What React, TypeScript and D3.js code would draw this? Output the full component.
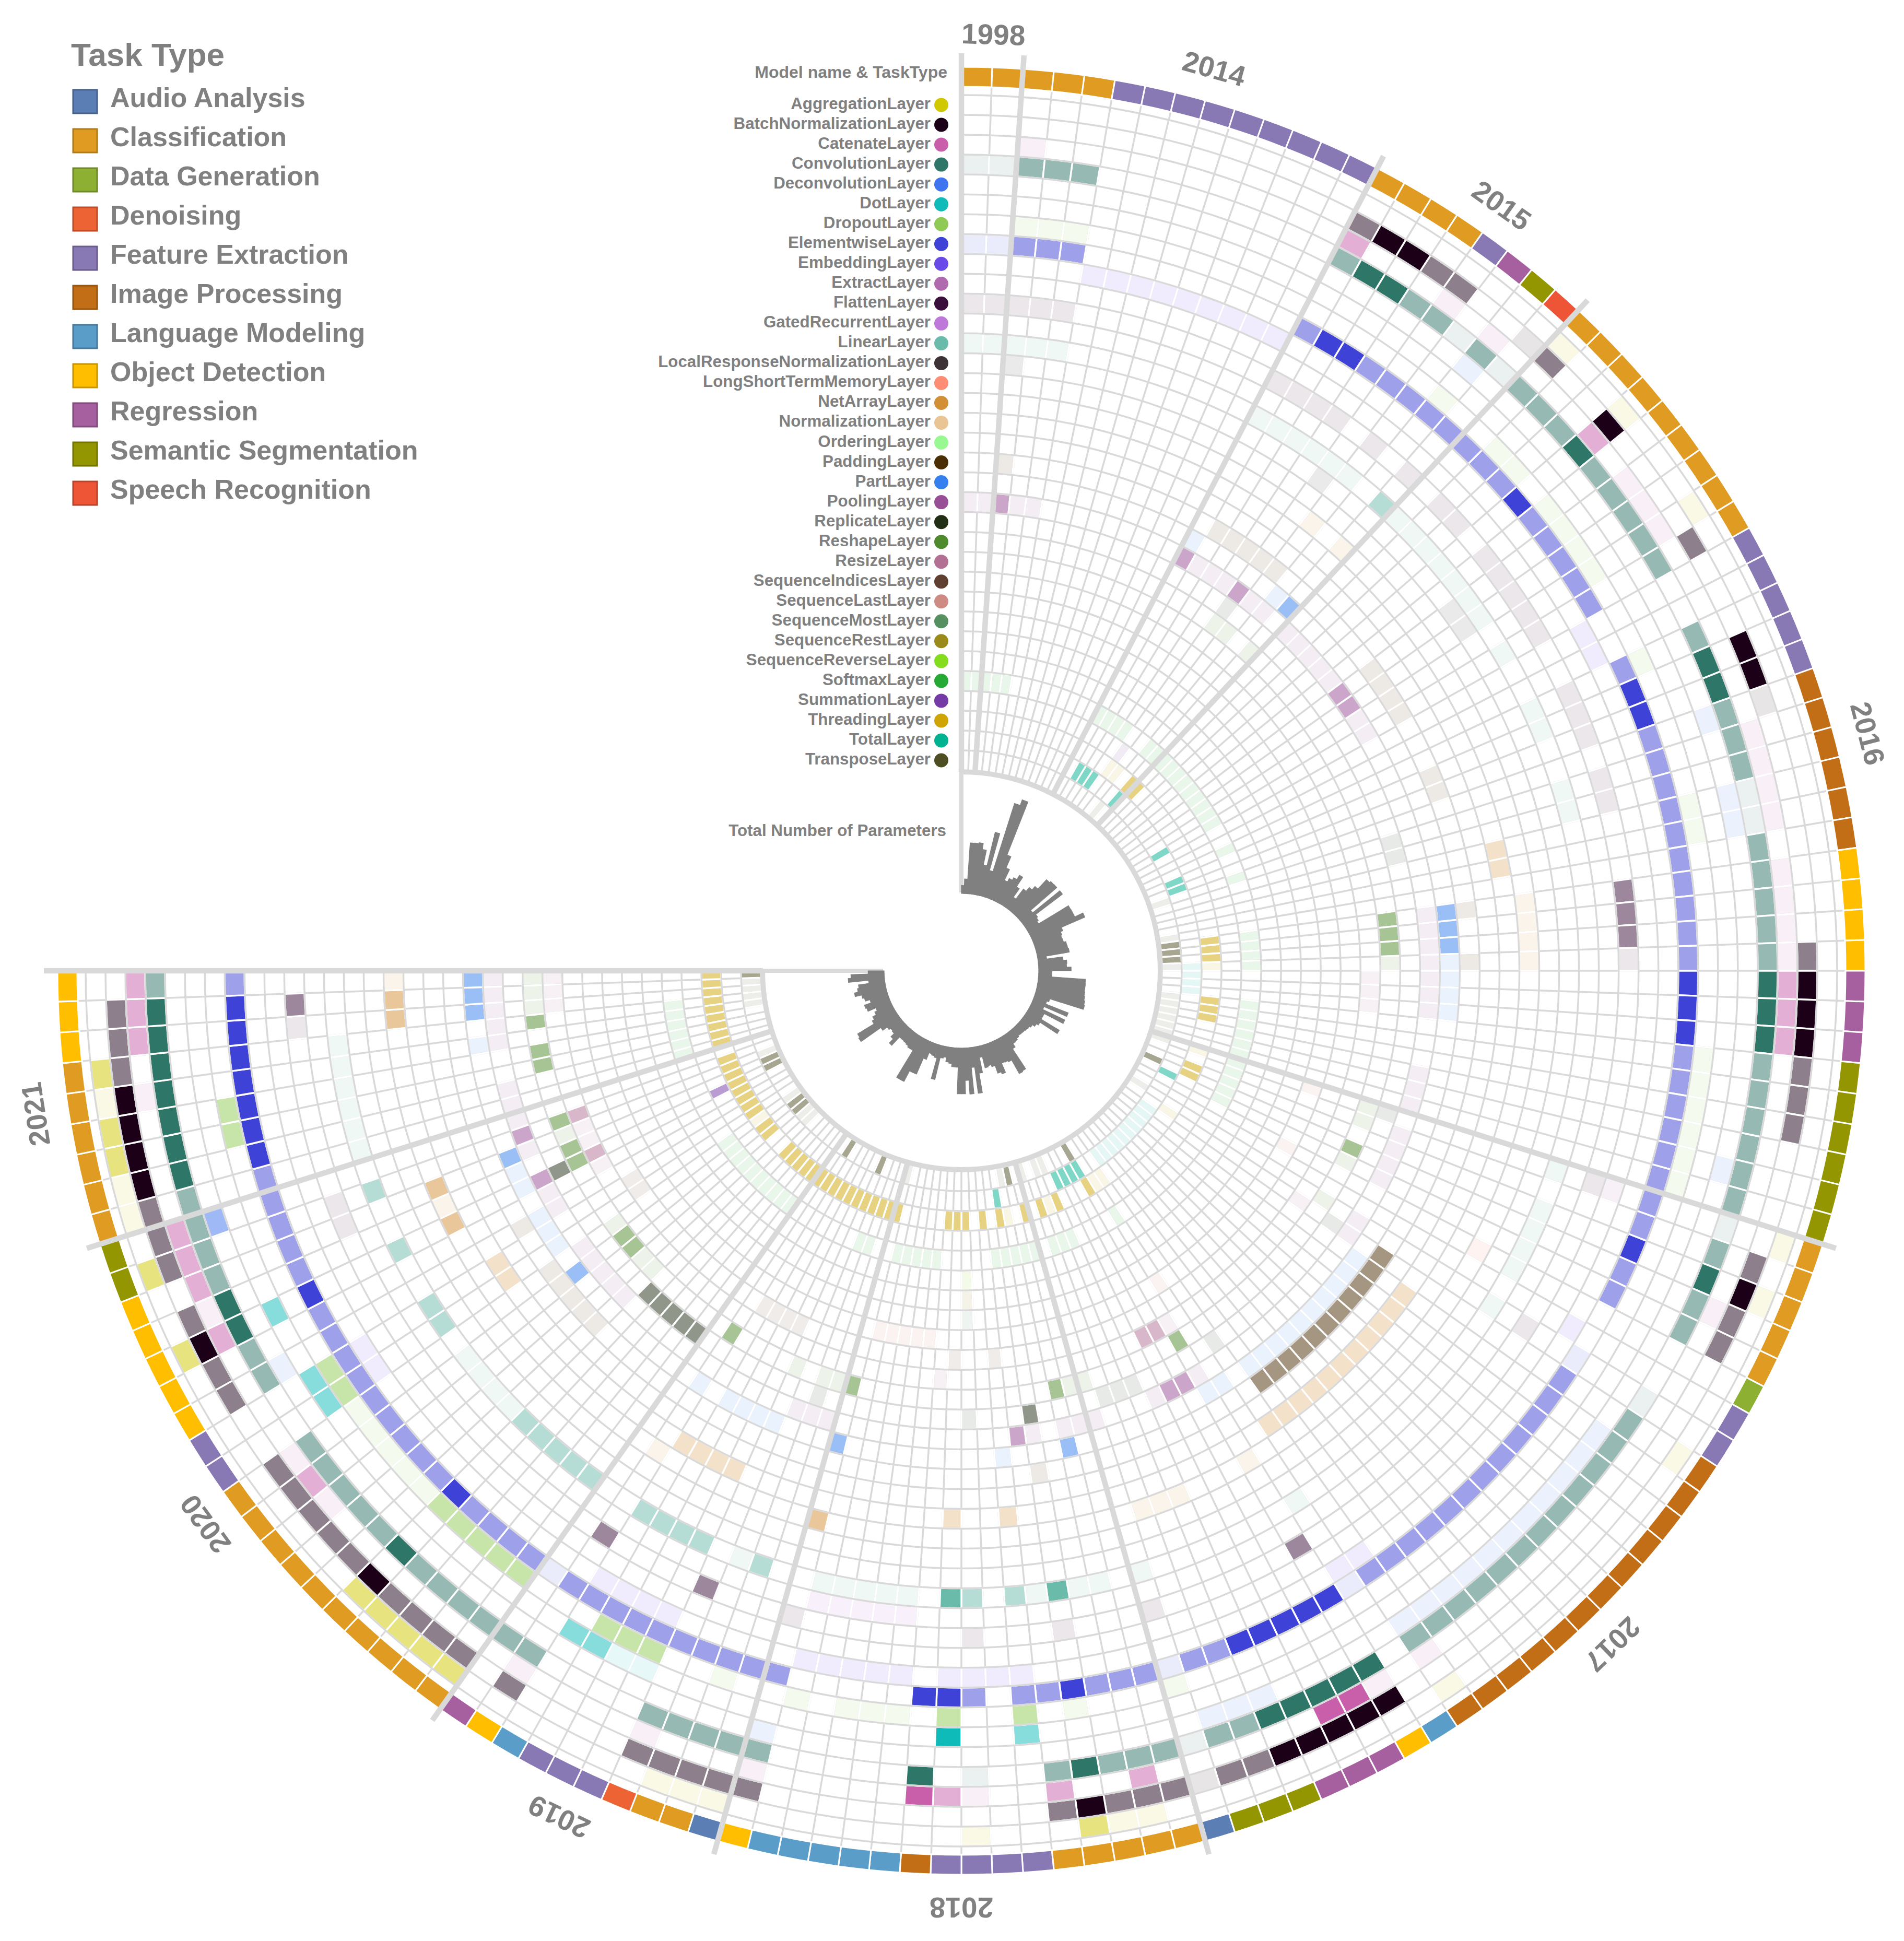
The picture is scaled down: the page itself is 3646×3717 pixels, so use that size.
import * as d3 from 'd3'

type Run = [number, number, number]

const taskTypes = ['Audio Analysis', 'Classification', 'Data Generation', 'Denoising', 'Feature Extraction', 'Image Processing', 'Language Modeling', 'Object Detection', 'Regression', 'Semantic Segmentation', 'Speech Recognition']
const taskColors = ['#5B7FB5', '#E09C22', '#8DB033', '#EE6333', '#8878B3', '#C16E16', '#5A9DC8', '#FFBE00', '#A7609F', '#939600', '#EE5537']

// task type per model, clockwise, as [task index, how many models]
const taskSequence = [
  [1, 5], [4, 9],
  [1, 4], [4, 1], [8, 1], [9, 1], [10, 1],
  [1, 9], [4, 5], [5, 6], [7, 4], [8, 3], [9, 6],
  [1, 5], [2, 1], [4, 2], [5, 12], [6, 1], [7, 1], [8, 3], [9, 3], [0, 1],
  [1, 5], [4, 4], [5, 1], [6, 5], [7, 1],
  [0, 1], [1, 2], [3, 1], [4, 3], [6, 1], [7, 1], [8, 1],
  [1, 10], [4, 2], [7, 5], [9, 2],
  [1, 6], [7, 3],
]

// year label, first model, last model
const years: [string, number, number][] = [
  ['1998', 0, 1], ['2014', 2, 13], ['2015', 14, 21], ['2016', 22, 54], ['2017', 55, 83],
  ['2018', 84, 99], ['2019', 100, 109], ['2020', 110, 128], ['2021', 129, 137],
]

const layerNames = ['AggregationLayer', 'BatchNormalizationLayer', 'CatenateLayer', 'ConvolutionLayer', 'DeconvolutionLayer', 'DotLayer', 'DropoutLayer', 'ElementwiseLayer', 'EmbeddingLayer', 'ExtractLayer', 'FlattenLayer', 'GatedRecurrentLayer', 'LinearLayer', 'LocalResponseNormalizationLayer', 'LongShortTermMemoryLayer', 'NetArrayLayer', 'NormalizationLayer', 'OrderingLayer', 'PaddingLayer', 'PartLayer', 'PoolingLayer', 'ReplicateLayer', 'ReshapeLayer', 'ResizeLayer', 'SequenceIndicesLayer', 'SequenceLastLayer', 'SequenceMostLayer', 'SequenceRestLayer', 'SequenceReverseLayer', 'SoftmaxLayer', 'SummationLayer', 'ThreadingLayer', 'TotalLayer', 'TransposeLayer']
const layerColors = ['#D0C800', '#1B0017', '#C95FAB', '#2D7668', '#3F74F0', '#0EBBB9', '#8FCB54', '#3E42D6', '#6949E8', '#B06BAE', '#3A0F3B', '#BE78DA', '#6BBBAB', '#3D3236', '#FF8D76', '#D38F36', '#E9C494', '#98F993', '#4A2E04', '#3580EF', '#974E95', '#222F15', '#4F8A2C', '#B46F95', '#604030', '#CE8B84', '#559060', '#9A8A1A', '#85DC1E', '#27A935', '#743AA5', '#CFA505', '#00B290', '#4E4E23']

// runs of [first model, last model, level], level 1 = one of these layers, 2 = a few, 3 = many
const aggregation: Run[] = [[22, 22, 1], [25, 25, 1], [29, 29, 1], [55, 55, 1], [57, 57, 1], [63, 63, 1], [74, 74, 1], [85, 86, 1], [87, 87, 2], [91, 91, 1], [100, 102, 1], [110, 114, 2], [124, 124, 2], [127, 127, 2], [129, 130, 1], [131, 132, 2], [133, 133, 1], [134, 134, 2]]
const batchNorm: Run[] = [[14, 14, 2], [15, 16, 3], [17, 18, 2], [21, 21, 1], [22, 22, 2], [25, 25, 3], [30, 30, 2], [34, 35, 3], [36, 36, 1], [45, 45, 2], [46, 48, 3], [49, 51, 2], [56, 56, 2], [57, 57, 3], [58, 59, 2], [76, 80, 3], [81, 82, 2], [83, 83, 1], [84, 86, 2], [87, 87, 3], [88, 88, 2], [99, 103, 2], [108, 108, 2], [110, 113, 2], [114, 114, 3], [115, 119, 2], [122, 123, 2], [124, 124, 3], [125, 125, 2], [127, 129, 2], [130, 133, 3], [134, 136, 2]]
const catenate: Run[] = [[2, 2, 1], [14, 14, 2], [18, 18, 1], [20, 20, 1], [25, 25, 2], [27, 29, 1], [37, 40, 1], [42, 45, 1], [46, 48, 2], [58, 58, 1], [74, 74, 1], [76, 76, 1], [77, 78, 3], [85, 85, 2], [88, 88, 2], [91, 91, 1], [92, 92, 2], [93, 93, 3], [99, 99, 1], [103, 103, 1], [108, 108, 1], [117, 117, 1], [118, 118, 2], [119, 119, 1], [124, 124, 2], [125, 125, 1], [126, 128, 2], [133, 133, 1], [135, 137, 2]]
const convolution: Run[] = [[0, 1, 1], [2, 4, 2], [14, 14, 2], [15, 16, 3], [17, 18, 2], [19, 19, 1], [20, 20, 2], [21, 21, 1], [22, 24, 2], [25, 25, 3], [26, 30, 2], [33, 33, 2], [34, 35, 3], [36, 38, 2], [39, 40, 1], [41, 45, 2], [46, 48, 3], [49, 54, 2], [55, 55, 1], [56, 56, 2], [57, 57, 3], [58, 59, 2], [62, 62, 1], [63, 74, 2], [76, 80, 3], [81, 82, 2], [83, 83, 1], [84, 86, 2], [87, 87, 3], [88, 88, 2], [91, 91, 1], [93, 93, 3], [99, 103, 2], [108, 113, 2], [114, 114, 3], [115, 119, 2], [122, 123, 2], [124, 125, 3], [126, 129, 2], [130, 136, 3], [137, 137, 2]]
const deconvolution: Run[] = [[20, 20, 1], [36, 36, 1], [39, 40, 1], [53, 53, 1], [64, 74, 1], [80, 82, 1], [99, 99, 1], [122, 122, 1], [128, 128, 2]]
const dot: Run[] = [[89, 89, 2], [92, 92, 3], [104, 105, 1], [106, 107, 2], [120, 121, 2], [124, 124, 2]]
const dropout: Run[] = [[2, 4, 1], [20, 20, 1], [23, 24, 1], [26, 29, 1], [33, 33, 1], [39, 40, 1], [49, 54, 1], [83, 83, 1], [87, 87, 1], [89, 89, 2], [92, 92, 2], [94, 96, 1], [98, 98, 1], [101, 101, 1], [104, 106, 2], [110, 114, 2], [115, 119, 1], [120, 121, 2], [131, 132, 2]]
const elementwise: Run[] = [[0, 1, 1], [2, 4, 2], [14, 14, 2], [15, 16, 3], [17, 24, 2], [25, 25, 3], [26, 30, 2], [33, 33, 2], [34, 35, 3], [36, 45, 2], [46, 48, 3], [49, 56, 2], [57, 57, 3], [58, 59, 2], [62, 62, 1], [63, 74, 2], [75, 75, 1], [76, 80, 3], [81, 82, 2], [83, 83, 1], [84, 86, 2], [87, 87, 3], [88, 89, 2], [91, 91, 2], [92, 93, 3], [99, 108, 2], [109, 109, 1], [110, 113, 2], [114, 114, 3], [115, 123, 2], [124, 124, 3], [125, 129, 2], [130, 136, 3], [137, 137, 2]]
const embedding: Run[] = [[5, 13, 1], [31, 32, 1], [61, 61, 1], [74, 75, 1], [89, 92, 1], [94, 98, 1], [104, 107, 1], [120, 121, 1]]
const extract: Run[] = [[55, 55, 1]]
const flatten: Run[] = [[0, 4, 1], [14, 17, 1], [19, 19, 1], [21, 21, 1], [23, 24, 1], [26, 30, 1], [33, 35, 1], [37, 38, 1], [42, 44, 2], [45, 45, 1], [55, 55, 1], [62, 62, 1], [76, 76, 2], [83, 83, 1], [87, 87, 1], [91, 91, 1], [99, 99, 1], [103, 103, 2], [108, 108, 2], [126, 127, 1], [135, 135, 1], [136, 136, 2]]
const gatedRecurrent: Run[] = [[94, 98, 1]]
const linear: Run[] = [[0, 4, 1], [14, 19, 1], [21, 21, 2], [22, 28, 1], [30, 30, 1], [33, 34, 1], [37, 38, 1], [55, 55, 1], [57, 60, 1], [62, 62, 1], [75, 75, 1], [83, 83, 1], [85, 86, 1], [87, 87, 3], [88, 88, 1], [89, 89, 2], [91, 91, 2], [92, 92, 3], [94, 98, 1], [101, 101, 2], [102, 102, 1], [104, 107, 2], [110, 114, 2], [115, 118, 1], [120, 121, 2], [124, 124, 2], [127, 127, 2], [129, 134, 1]]
const localResponse: Run[] = [[2, 2, 1], [18, 18, 1], [27, 28, 1]]
const longShortTerm: Run[] = [[60, 60, 1]]
const netArray: Run[] = [[19, 19, 1], [21, 21, 1], [42, 45, 1], [76, 76, 1], [80, 82, 1], [99, 99, 2], [108, 108, 1], [124, 124, 2], [125, 125, 1], [126, 126, 2], [135, 136, 2], [137, 137, 1]]
const normalization: Run[] = [[39, 40, 2], [64, 74, 2], [89, 89, 2], [92, 92, 2], [104, 107, 2], [120, 121, 2]]
const ordering: Run[] = []
const padding: Run[] = [[2, 2, 1], [15, 19, 1], [27, 30, 1], [34, 35, 1], [42, 42, 1], [45, 45, 1], [63, 73, 2], [87, 87, 1], [115, 119, 1], [122, 122, 1]]
const part: Run[] = [[14, 14, 1], [20, 20, 1], [21, 21, 2], [42, 44, 2], [45, 48, 1], [64, 73, 1], [75, 76, 1], [85, 85, 2], [89, 89, 1], [99, 99, 2], [103, 106, 1], [108, 108, 1], [118, 118, 2], [120, 122, 1], [124, 125, 1], [126, 126, 2], [133, 133, 1], [135, 137, 2]]
const pooling: Run[] = [[0, 1, 1], [2, 2, 2], [3, 4, 1], [14, 14, 2], [15, 17, 1], [18, 18, 2], [19, 20, 1], [22, 26, 1], [27, 28, 2], [29, 30, 1], [42, 48, 1], [52, 54, 1], [56, 59, 1], [62, 63, 1], [76, 76, 1], [77, 78, 2], [79, 79, 1], [83, 85, 1], [87, 87, 1], [88, 88, 2], [100, 102, 1], [115, 119, 1], [122, 123, 1], [124, 124, 2], [126, 126, 1], [127, 127, 2], [128, 130, 1], [133, 137, 1]]
const replicate: Run[] = [[18, 18, 1], [37, 38, 1], [55, 55, 1], [63, 63, 1], [74, 74, 1], [80, 82, 1], [87, 87, 2], [91, 91, 1], [101, 101, 1], [110, 114, 2], [124, 124, 2]]
const reshape: Run[] = [[18, 19, 1], [21, 21, 1], [42, 44, 2], [45, 45, 1], [55, 56, 1], [58, 58, 2], [59, 59, 1], [62, 62, 1], [76, 76, 2], [83, 84, 1], [85, 85, 2], [99, 99, 2], [100, 101, 1], [103, 103, 1], [108, 108, 2], [115, 116, 1], [117, 118, 2], [119, 119, 1], [124, 125, 2], [126, 126, 1], [127, 127, 2], [131, 132, 2], [134, 134, 2], [135, 137, 1]]
const resize: Run[] = [[46, 48, 1], [63, 63, 1], [76, 76, 1], [77, 78, 2], [93, 93, 1], [123, 123, 1], [124, 124, 2], [125, 126, 1], [127, 127, 2], [135, 137, 1]]
const sequenceIndices: Run[] = [[89, 89, 1], [92, 92, 1], [104, 107, 1], [120, 121, 1]]
const sequenceLast: Run[] = [[55, 55, 1], [60, 60, 1], [75, 75, 1], [94, 98, 1]]
const sequenceMost: Run[] = [[91, 91, 1]]
const sequenceRest: Run[] = [[91, 91, 1]]
const sequenceReverse: Run[] = [[91, 91, 1]]
const softmax: Run[] = [[0, 4, 1], [14, 17, 1], [20, 30, 1], [33, 33, 1], [36, 36, 1], [42, 45, 1], [49, 59, 1], [75, 75, 1], [80, 82, 1], [84, 88, 1], [94, 98, 1], [101, 102, 1], [110, 119, 1], [129, 134, 1]]
const summation: Run[] = [[18, 18, 1], [124, 124, 2]]
const threading: Run[] = [[18, 19, 1], [21, 22, 2], [42, 44, 2], [45, 45, 1], [49, 51, 2], [55, 55, 1], [57, 58, 2], [63, 63, 1], [74, 75, 1], [76, 76, 2], [80, 80, 2], [81, 81, 1], [82, 82, 2], [84, 84, 2], [86, 86, 1], [87, 87, 2], [89, 89, 2], [91, 93, 2], [99, 109, 2], [110, 114, 2], [117, 118, 2], [119, 119, 1], [120, 127, 2], [129, 137, 2]]
const total: Run[] = [[15, 17, 2], [21, 21, 2], [30, 30, 2], [34, 35, 2], [45, 48, 1], [59, 59, 2], [64, 73, 1], [76, 79, 2], [87, 87, 2]]
const transpose: Run[] = [[20, 20, 1], [36, 36, 1], [41, 41, 1], [42, 44, 2], [45, 45, 1], [49, 55, 1], [58, 58, 2], [62, 62, 1], [76, 76, 2], [80, 81, 1], [83, 83, 1], [85, 85, 2], [86, 86, 1], [99, 99, 1], [103, 103, 2], [108, 108, 2], [115, 116, 1], [117, 118, 2], [119, 119, 1], [124, 125, 2], [126, 126, 1], [133, 136, 1], [137, 137, 2]]

const layerRuns = [aggregation, batchNorm, catenate, convolution, deconvolution, dot, dropout, elementwise, embedding, extract, flatten, gatedRecurrent, linear, localResponse, longShortTerm, netArray, normalization, ordering, padding, part, pooling, replicate, reshape, resize, sequenceIndices, sequenceLast, sequenceMost, sequenceRest, sequenceReverse, softmax, summation, threading, total, transpose]

// total number of parameters per model, bar length in chart units
const totalParameters = [30, 55, 191, 192, 195, 172, 116, 245, 101, 369, 391, 177, 131, 86, 100, 111, 130, 87, 48, 95, 113, 130, 178, 184, 185, 55, 186, 60, 55, 49, 180, 181, 181, 215, 119, 110, 106, 108, 117, 118, 121, 33, 94, 107, 105, 122, 50, 50, 177, 178, 178, 180, 183, 187, 190, 58, 50, 141, 48, 140, 60, 60, 140, 63, 55, 45, 40, 38, 36, 35, 34, 38, 43, 45, 60, 150, 153, 95, 90, 88, 126, 118, 88, 80, 85, 42, 100, 174, 75, 174, 122, 172, 172, 72, 72, 60, 56, 40, 45, 130, 50, 45, 41, 68, 133, 133, 178, 178, 60, 60, 55, 52, 50, 50, 93, 72, 55, 52, 60, 80, 171, 166, 94, 85, 70, 60, 92, 96, 70, 88, 95, 120, 106, 100, 60, 136, 125, 60]

const levelOpacity = [0, 0.1, 0.5, 1]

const WIDTH = 3646
const HEIGHT = 3717
const CX = 1841
const CY = 1859
const GREY = '#808080'
const GRID = '#D9D9D9'
const FONT = '"Liberation Sans", Arial, sans-serif'

const models = totalParameters.length
const taskOfModel = taskSequence.flatMap(([task, count]) => d3.range(count).map(() => task))

const angle = d3.scaleLinear().domain([0, models]).range([0, 1.5 * Math.PI])
const rowRadius = d3.scaleLinear().domain([0, layerNames.length]).range([1677, 384])
const barRadius = d3.scaleLinear().domain([0, 400]).range([148, 352])

const arc = d3.arc<any>()
const sector = (inner: number, outer: number, from: number, to: number) =>
  arc({ innerRadius: inner, outerRadius: outer, startAngle: angle(from), endAngle: angle(to) }) as string

const polar = (a: number, r: number): [number, number] => [r * Math.sin(a), -r * Math.cos(a)]

export default function App() {
  const cells = layerRuns.flatMap((runs, row) =>
    runs.flatMap(([first, last, level]) =>
      d3.range(first, last + 1).map((model) => ({ row, model, level }))))

  const boundaries = [0, ...years.map((y) => y[2] + 1)]

  return (
    <svg width={WIDTH} height={HEIGHT} style={{ position: 'absolute', left: 0, top: 0 }} fontFamily={FONT} fontWeight="bold">
      <text x={136} y={126} fontSize={62} fill={GREY}>Task Type</text>
      {taskTypes.map((t, i) => (
        <g key={t} transform={`translate(0,${75 * i})`}>
          <rect x={140} y={172} width={46} height={45} fill={taskColors[i]} stroke={d3.color(taskColors[i])!.darker(0.7).formatHex()} strokeWidth={3} />
          <text x={211} y={205} fontSize={52} fill={GREY}>{t}</text>
        </g>
      ))}

      <text x={1814} y={149} fontSize={32} fill={GREY} textAnchor="end">Model name &amp; TaskType</text>
      {layerNames.map((name, i) => {
        const y = CY - (rowRadius(i) + rowRadius(i + 1)) / 2
        return (
          <g key={name}>
            <text x={1782} y={y + 8} fontSize={31.3} fill={GREY} textAnchor="end">{name}</text>
            <circle cx={1802.5} cy={y} r={13.5} fill={layerColors[i]} />
          </g>
        )
      })}
      <text x={1812} y={1601} fontSize={31.3} fill={GREY} textAnchor="end">Total Number of Parameters</text>

      <g transform={`translate(${CX},${CY})`}>
        {d3.range(models + 1).map((m) => {
          const [x1, y1] = polar(angle(m), rowRadius(layerNames.length))
          const [x2, y2] = polar(angle(m), 1693)
          return <line key={m} x1={x1} y1={y1} x2={x2} y2={y2} stroke={GRID} strokeWidth={3.5} />
        })}

        {cells.map((c) => (
          <path
            key={`${c.row}-${c.model}`}
            d={sector(rowRadius(c.row + 1), rowRadius(c.row), c.model, c.model + 1)}
            fill={d3.color(layerColors[c.row])!.copy({ opacity: levelOpacity[c.level] }).formatRgb()}
            stroke="#fff"
            strokeWidth={3.4}
          />
        ))}

        {d3.range(layerNames.length + 1).map((row) => (
          <path key={row} d={sector(rowRadius(row) - 1.75, rowRadius(row) + 1.75, 0, models)} fill={GRID} />
        ))}
        <path d={sector(376, 384, 0, models)} fill={GRID} />

        {taskOfModel.map((task, m) => (
          <path key={m} d={sector(1693, 1731, m, m + 1)} fill={taskColors[task]} stroke="#fff" strokeWidth={3} />
        ))}

        {boundaries.map((b) => {
          const [x1, y1] = polar(angle(b), 380)
          const [x2, y2] = polar(angle(b), 1757)
          return <line key={b} x1={x1} y1={y1} x2={x2} y2={y2} stroke={GRID} strokeWidth={10.5} />
        })}
        {[0, models].map((b) => {
          const [x1, y1] = polar(angle(b), 150)
          const [x2, y2] = polar(angle(b), 380)
          return <line key={b} x1={x1} y1={y1} x2={x2} y2={y2} stroke={GRID} strokeWidth={8} />
        })}

        {totalParameters.map((v, m) => (
          <path key={m} d={sector(148, barRadius(v), m, m + 1)} fill={GREY} stroke={GREY} strokeWidth={1.2} />
        ))}

        {years.map(([label, first, last]) => {
          const a = angle((first + last + 1) / 2)
          const [x, y] = polar(a, 1794)
          return (
            <text key={label} x={x} y={y} fontSize={55} fill={GREY} textAnchor="middle" dominantBaseline="central"
              transform={`rotate(${(a * 180) / Math.PI},${x},${y})`}>
              {label}
            </text>
          )
        })}
      </g>
    </svg>
  )
}
